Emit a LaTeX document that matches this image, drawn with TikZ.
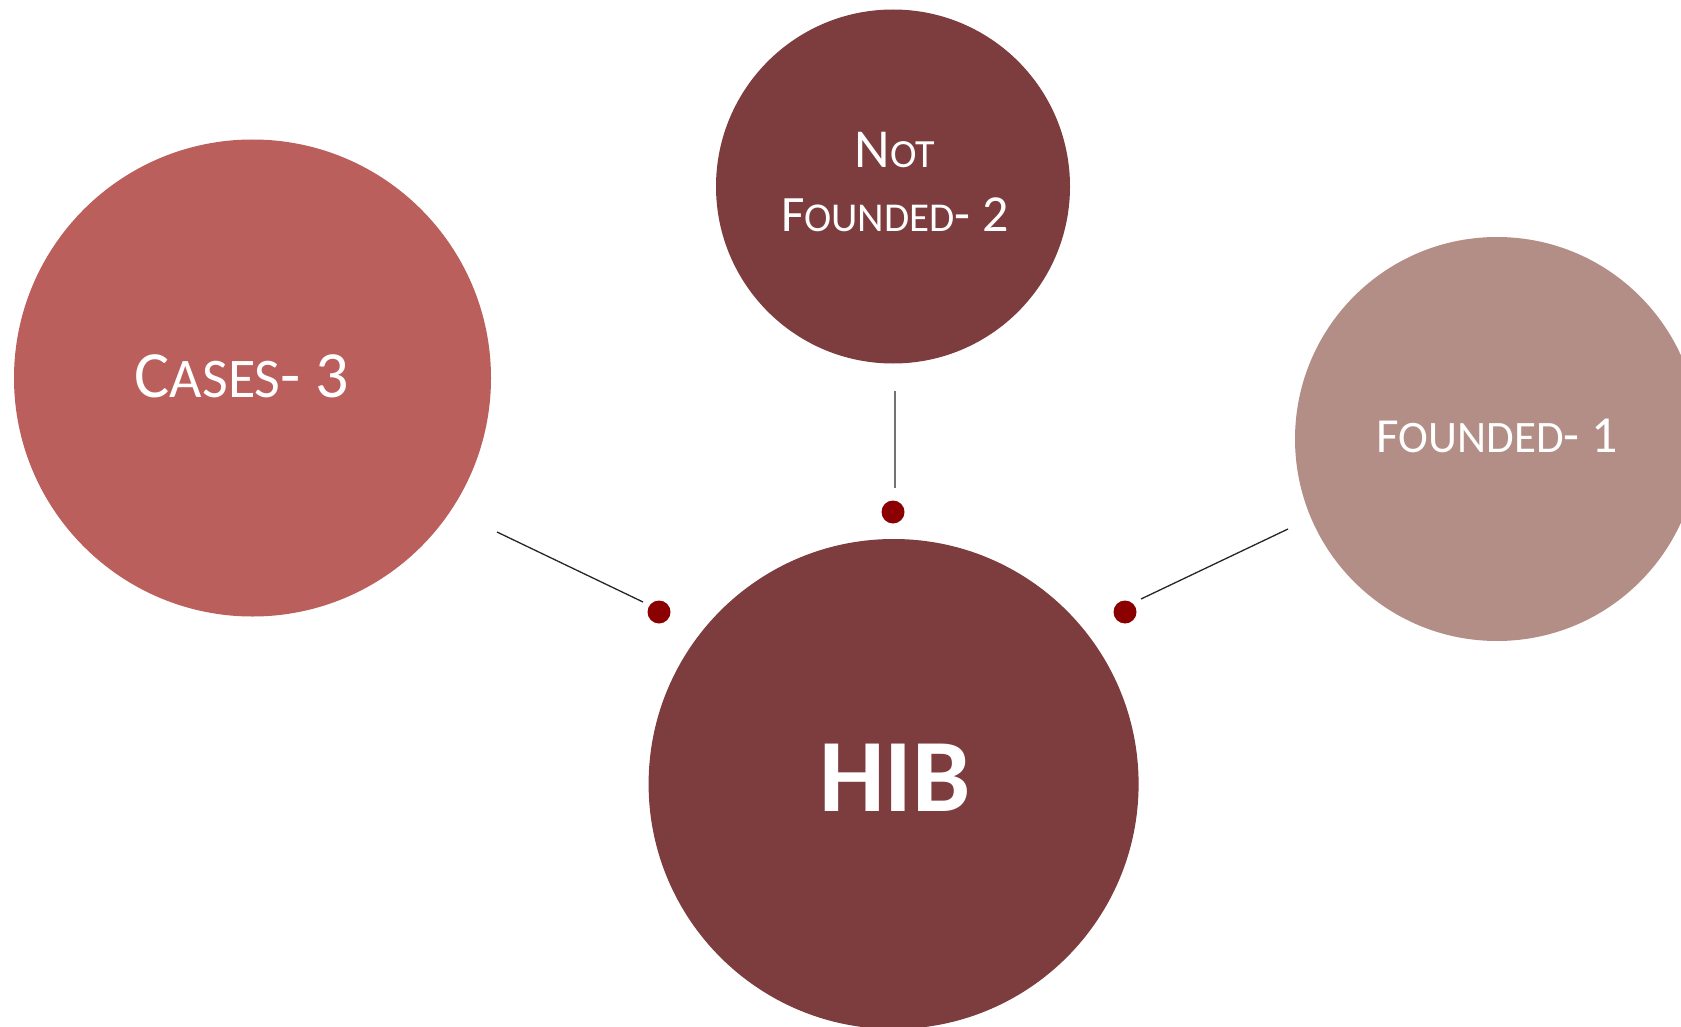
\documentclass[tikz,border=0pt]{standalone}
\usepackage{fontspec}
\setmainfont{Carlito}
\definecolor{casesc}{HTML}{BA5F5B}
\definecolor{darkc}{HTML}{7D3C3D}
\definecolor{foundc}{HTML}{B38E87}
\definecolor{dotc}{HTML}{8B0000}
\newcommand\szz[1]{\fontsize{#1}{#1}\selectfont}
\begin{document}
\begin{tikzpicture}[x=1pt,y=-1pt,
  bubble/.style={circle,inner sep=0pt,draw=none},
  label/.style={text=white,anchor=base,inner sep=0pt},
  dotn/.style={circle,fill=dotc,inner sep=0pt,minimum size=23pt},
  link/.style={line width=1.3pt,draw=black!85}]
\useasboundingbox (0,0) rectangle (1681,1027);
\begin{scope}
\clip (0,0) rectangle (1681,1027);
\node[bubble,fill=casesc,minimum size=477pt] (cases) at (252.5,378) {};
\node[bubble,fill=darkc,minimum size=354pt] (notf) at (893,186.5) {};
\node[bubble,fill=foundc,minimum size=404pt] (found) at (1497,439) {};
\node[bubble,fill=darkc,minimum size=490pt] (hib) at (893.6,784) {};
\end{scope}
% labels
\node[label] (tcases) at (242,397) {\szz{66}C\szz{56}ASES\szz{66}- 3};
\node[label] (tnot) at (895,168) {\szz{55}N\szz{40}OT};
\node[label] (tnotf) at (895,232) {\szz{51}F\szz{41}OUNDED\szz{52}- 2};
\node[label] (tfound) at (1497,452) {\szz{49}F\szz{45}OUNDED\szz{52}- 1};
\node[label] (thib) at (895,811) {\szz{104}\bfseries HIB};
% dots
\node[dotn] (d1) at (659,612) {};
\node[dotn] (d2) at (893,512) {};
\node[dotn] (d3) at (1125,612) {};
% connector ends
\coordinate (l1a) at (497,532);
\coordinate (l1b) at (643,602);
\coordinate (l2a) at (895,391);
\coordinate (l2b) at (895,488);
\coordinate (l3a) at (1141,599);
\coordinate (l3b) at (1288,529);
\draw[link] (l1a) -- (l1b);
\draw[link,draw=black!55] (l2a) -- (l2b);
\draw[link] (l3a) -- (l3b);
\end{tikzpicture}
\end{document}
